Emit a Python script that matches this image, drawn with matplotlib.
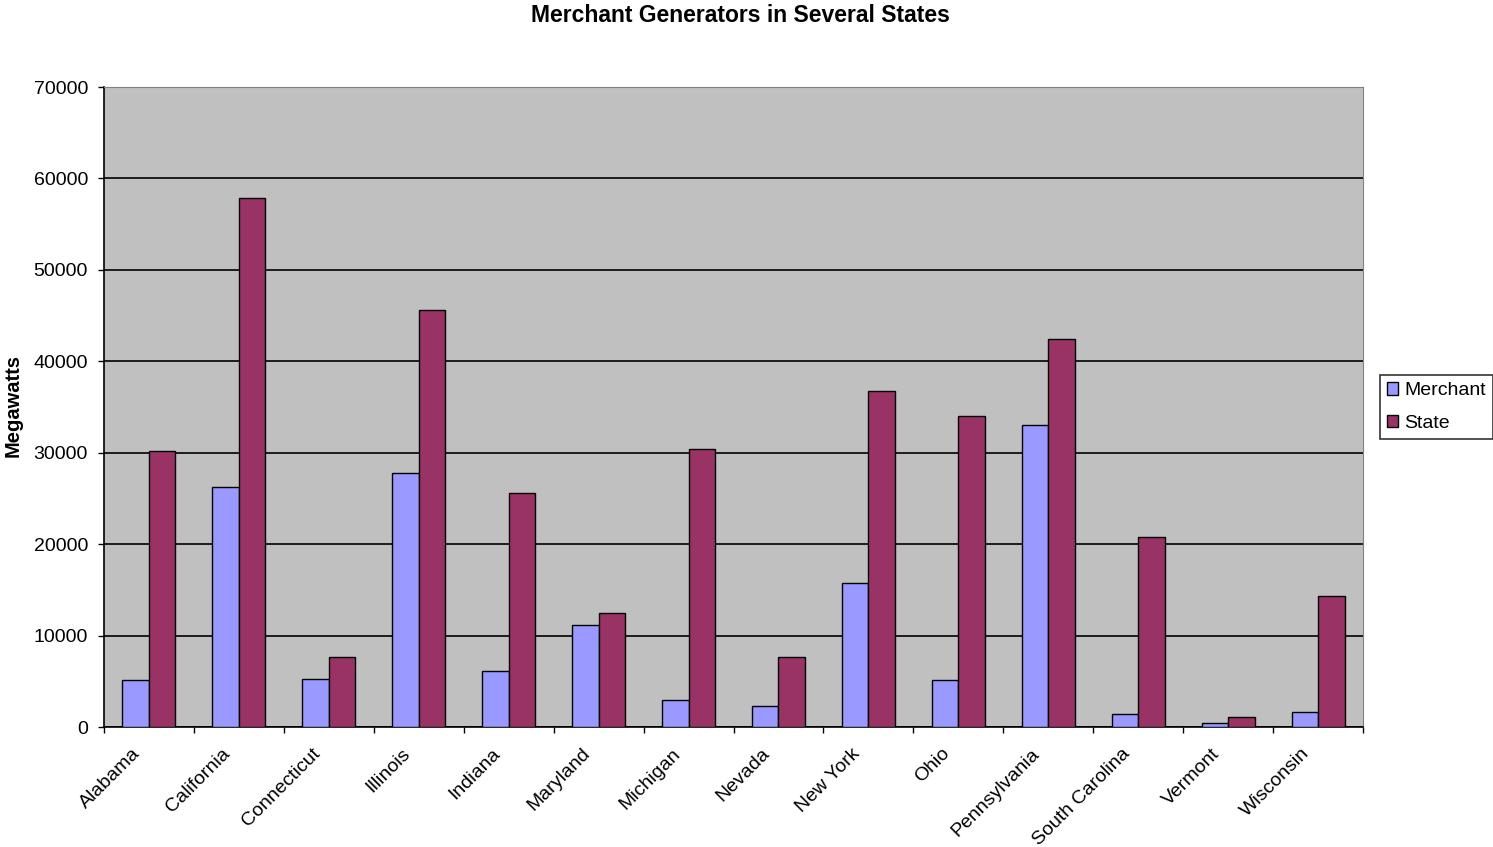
import numpy as np
import matplotlib.pyplot as plt
import matplotlib.transforms as mtransforms

plt.rcParams['font.family'] = ['Liberation Sans', 'DejaVu Sans']

# Generating capacity by state, in megawatts
states = ["Alabama", "California", "Connecticut", "Illinois", "Indiana",
          "Maryland", "Michigan", "Nevada", "New York", "Ohio",
          "Pennsylvania", "South Carolina", "Vermont", "Wisconsin"]
merchant = [5100, 26250, 5250, 27800, 6100, 11150, 2950, 2300, 15750, 5150,
            33000, 1400, 450, 1650]
state_total = [30200, 57850, 7650, 45600, 25600, 12450, 30450, 7650, 36700,
               34000, 42400, 20750, 1100, 14350]

fig = plt.figure(figsize=(14.93, 8.47), dpi=100)
ax = fig.add_axes([104 / 1493, 1 - 727 / 847, 1259 / 1493, 640 / 847])
ax.set_facecolor("#C0C0C0")

x = np.arange(len(states))
w = 0.295
ax.bar(x - w / 2, merchant, w, color="#9999FF", edgecolor="black",
       linewidth=1, label="Merchant", zorder=3)
ax.bar(x + w / 2, state_total, w, color="#993366", edgecolor="black",
       linewidth=1, label="State", zorder=3)

ax.set_xlim(-0.5, len(states) - 0.5)
ax.set_ylim(0, 70000)
ax.set_yticks(np.arange(0, 70001, 10000))
ax.yaxis.grid(True, color="black", linewidth=1.2, zorder=1)
ax.tick_params(axis="y", labelsize=14, length=4.5, direction="out", width=1,
               pad=7)

# category ticks sit between the groups
ax.set_xticks(np.arange(-0.5, len(states), 1.0))
ax.set_xticklabels([])
ax.tick_params(axis="x", length=4.5, width=1)
ax.set_xticks(x, minor=True)
ax.set_xticklabels(states, minor=True, rotation=45, ha="right",
                   rotation_mode="anchor", fontsize=14)
ax.tick_params(axis="x", which="minor", length=0, pad=13)
shift = mtransforms.ScaledTranslation(-17 / 100, 0, fig.dpi_scale_trans)
for lbl in ax.get_xticklabels(minor=True):
    lbl.set_transform(lbl.get_transform() + shift)

for side in ("top", "right"):
    ax.spines[side].set_color("#808080")
for side in ("left", "bottom"):
    ax.spines[side].set_color("black")
    ax.spines[side].set_linewidth(1.2)

fig.text(13 / 1493, 1 - 405 / 847, "Megawatts", rotation=90,
         ha="center", va="center", fontsize=14.5, fontweight="bold")
fig.text(740 / 1493, 1 - 16 / 847, "Merchant Generators in Several States",
         ha="center", va="center", fontsize=16.5, fontweight="bold")

leg = ax.legend(loc="center left", bbox_to_anchor=(1.0135, 0.5),
                fontsize=14, frameon=True, fancybox=False, edgecolor="black",
                handlelength=0.6, handleheight=0.6, handletextpad=0.3,
                borderpad=0.35, labelspacing=0.8, borderaxespad=0)
leg.get_frame().set_linewidth(1.2)

fig.savefig("out.png", dpi=100)
